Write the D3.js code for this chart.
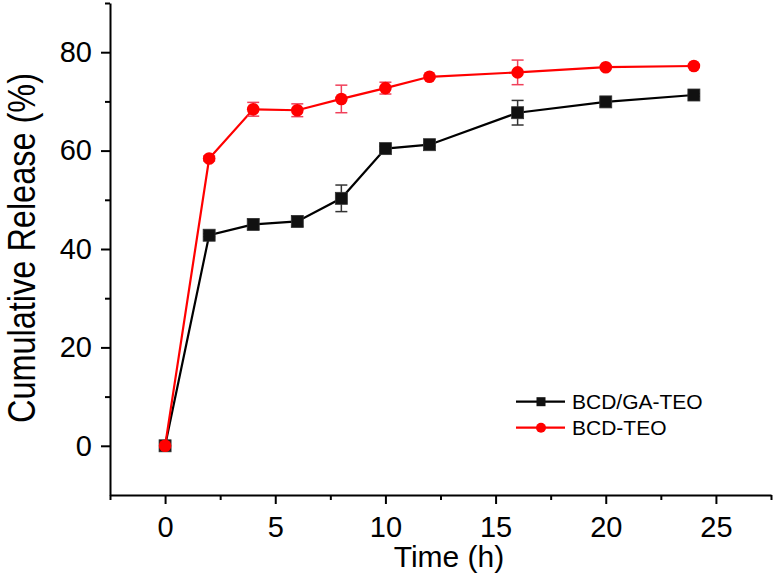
<!DOCTYPE html>
<html>
<head>
<meta charset="utf-8">
<script src="https://cdn.jsdelivr.net/npm/d3@7"></script>
<style>
  html, body { margin: 0; padding: 0; background: #fff; }
  svg { display: block; }
</style>
</head>
<body>
<svg id="chart" width="775" height="578"></svg>
<script>
// ---- data ----
const times = [0, 2, 4, 6, 8, 10, 12, 16, 20, 24];
const gaTeo = [0, 42.8, 45.0, 45.6, 50.3, 60.4, 61.2, 67.7, 69.9, 71.3];
const gaTeoErr = [0, 0.3, 1.0, 1.0, 2.7, 0.5, 0.3, 2.5, 0.3, 0.3];
const teo = [0, 58.4, 68.4, 68.2, 70.5, 72.7, 75.0, 75.9, 76.95, 77.2];
const teoErr = [0, 0.5, 1.4, 1.3, 2.8, 1.2, 0.3, 2.5, 0.3, 0.3];
const xTicks = [0, 5, 10, 15, 20, 25];
const xMinor = [-2.5, 2.5, 7.5, 12.5, 17.5, 22.5, 27.5];
const yTicks = [0, 20, 40, 60, 80];
const yMinor = [10, 30, 50, 70, 90];
const seriesNames = ["BCD/GA-TEO", "BCD-TEO"];

const FONT = "'Liberation Sans', Arial, Helvetica, sans-serif";
const svg = d3.select("#chart");

const x = d3.scaleLinear().domain([-2.5, 27.5]).range([110, 771]);
const y = d3.scaleLinear().domain([-10, 90]).range([495, 3]);

// ---- axes ----
function styleAxis(g) {
  g.select(".domain").attr("stroke", "#000").attr("stroke-width", 2);
  g.selectAll(".tick line").attr("stroke", "#000").attr("stroke-width", 2);
  g.selectAll("text").attr("fill", "#000");
}

const gy = svg.append("g").attr("transform", `translate(${x(-2.5)},0)`)
  .call(d3.axisLeft(y).tickValues(yTicks).tickSize(9).tickSizeOuter(0).tickPadding(9))
  .attr("font-family", FONT).attr("font-size", 29);
styleAxis(gy);
const gyMinor = svg.append("g").attr("transform", `translate(${x(-2.5)},0)`)
  .call(d3.axisLeft(y).tickValues(yMinor).tickSize(5).tickFormat(""));
gyMinor.select(".domain").remove();
styleAxis(gyMinor);

const gx = svg.append("g").attr("transform", `translate(0,${y(-10)})`)
  .call(d3.axisBottom(x).tickValues(xTicks).tickSize(9).tickSizeOuter(0).tickPadding(12))
  .attr("font-family", FONT).attr("font-size", 29);
styleAxis(gx);
const gxMinor = svg.append("g").attr("transform", `translate(0,${y(-10)})`)
  .call(d3.axisBottom(x).tickValues(xMinor).tickSize(5).tickFormat(""));
gxMinor.select(".domain").remove();
styleAxis(gxMinor);

// ---- axis titles ----
svg.append("text")
  .attr("x", 449).attr("y", 567)
  .attr("text-anchor", "middle")
  .attr("font-family", FONT).attr("font-size", 30)
  .text("Time (h)");

svg.append("text")
  .attr("transform", "translate(34.5,248) rotate(-90)")
  .attr("text-anchor", "middle")
  .attr("font-family", FONT).attr("font-size", 38)
  .attr("textLength", 350).attr("lengthAdjust", "spacingAndGlyphs")
  .text("Cumulative Release (%)");

// ---- series ----
const series = [
  { name: seriesNames[0], vals: gaTeo, err: gaTeoErr, color: "#000000", errColor: "#333333", shape: "square" },
  { name: seriesNames[1], vals: teo, err: teoErr, color: "#ff0000", errColor: "#f0405a", shape: "circle" }
];

const line = d3.line().x(d => x(d[0])).y(d => y(d[1]));

series.forEach(s => {
  const pts = times.map((t, i) => [t, s.vals[i], s.err[i]]);
  const g = svg.append("g");
  g.append("path").datum(pts)
    .attr("d", line).attr("fill", "none")
    .attr("stroke", s.color).attr("stroke-width", 2.2);
  // error bars
  const eb = g.selectAll(".eb").data(pts.filter(p => p[2] > 0)).enter().append("g");
  eb.append("line")
    .attr("x1", d => x(d[0])).attr("x2", d => x(d[0]))
    .attr("y1", d => y(d[1] + d[2])).attr("y2", d => y(d[1] - d[2]))
    .attr("stroke", s.errColor).attr("stroke-width", 1.5);
  [1, -1].forEach(sg => {
    eb.append("line")
      .attr("x1", d => x(d[0]) - 6).attr("x2", d => x(d[0]) + 6)
      .attr("y1", d => y(d[1] + sg * d[2])).attr("y2", d => y(d[1] + sg * d[2]))
      .attr("stroke", s.errColor).attr("stroke-width", 1.5);
  });
  // markers
  if (s.shape === "square") {
    g.selectAll(".m").data(pts).enter().append("rect")
      .attr("x", d => x(d[0]) - 6).attr("y", d => y(d[1]) - 6)
      .attr("width", 12).attr("height", 12)
      .attr("fill", "#111").attr("stroke", "#333").attr("stroke-width", 0.8);
  } else {
    g.selectAll(".m").data(pts).enter().append("circle")
      .attr("cx", d => x(d[0])).attr("cy", d => y(d[1]))
      .attr("r", 6.3).attr("fill", s.color);
  }
});

// ---- legend ----
const lg = svg.append("g");
series.forEach((s, i) => {
  const ly = 401.7 + i * 26;
  lg.append("line").attr("x1", 516).attr("x2", 565).attr("y1", ly).attr("y2", ly)
    .attr("stroke", s.color).attr("stroke-width", 2.2);
  if (s.shape === "square") {
    lg.append("rect").attr("x", 541 - 4.5).attr("y", ly - 4.5).attr("width", 9).attr("height", 9).attr("fill", "#111");
  } else {
    lg.append("circle").attr("cx", 541).attr("cy", ly).attr("r", 5).attr("fill", s.color);
  }
  lg.append("text").attr("x", 572).attr("y", ly + 7.5)
    .attr("font-family", FONT).attr("font-size", 21).attr("fill", "#000")
    .text(s.name);
});
</script>
</body>
</html>
